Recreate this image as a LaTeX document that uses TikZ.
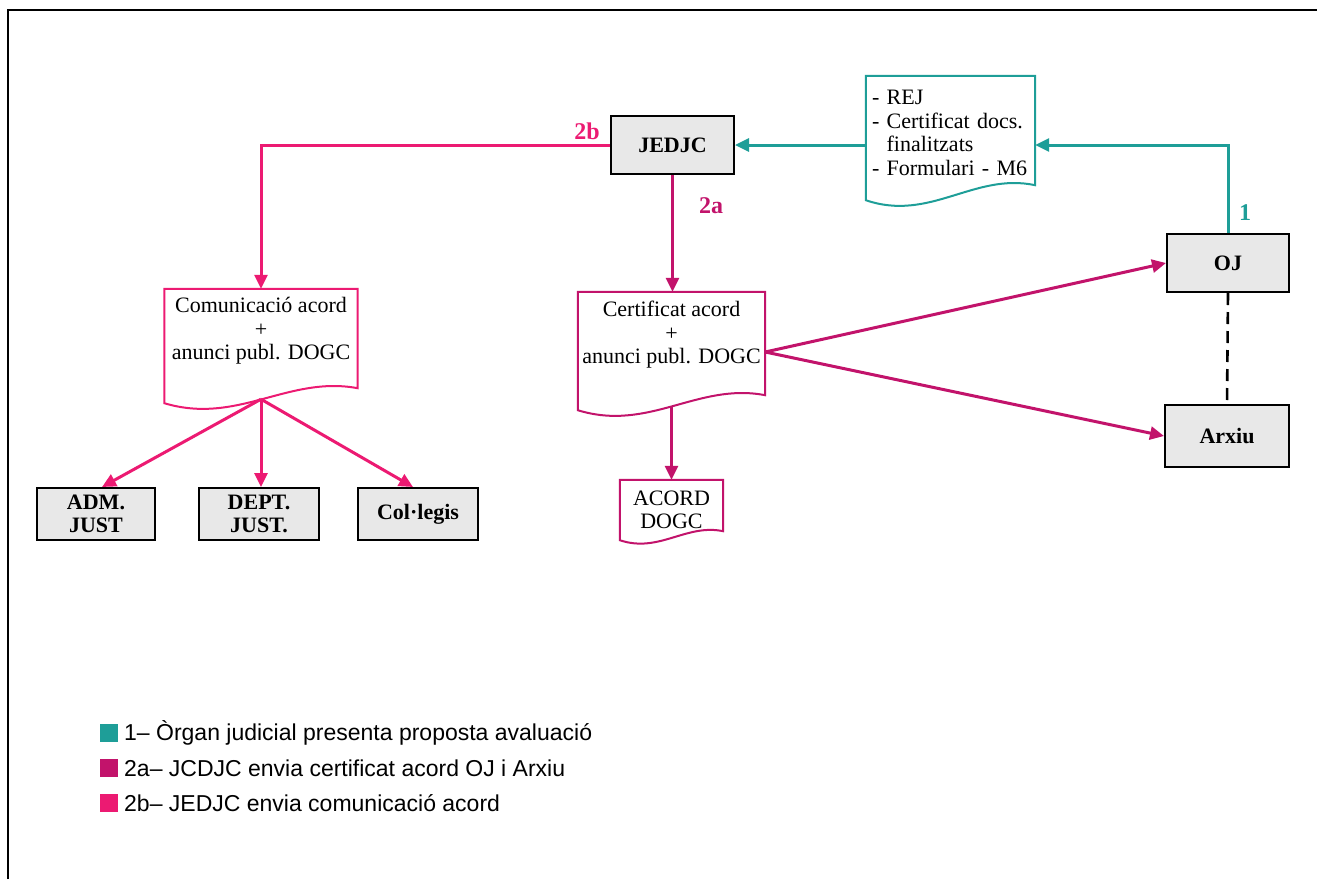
\documentclass[tikz,border=0pt]{standalone}
\usepackage{fontspec}
\setmainfont{Liberation Serif}
\newfontfamily\legendfont{Liberation Sans}
\usetikzlibrary{arrows.meta,calc}
\definecolor{cteal}{HTML}{1E9E98}
\definecolor{ccrim}{HTML}{C2136B}
\definecolor{cpink}{HTML}{EC1A72}
\definecolor{cgray}{HTML}{E8E8E8}
\tikzset{
  gbox/.style={draw=black, line width=2pt, fill=cgray, font=\fontsize{22}{23}\selectfont\bfseries, align=center, inner sep=0pt},
  doctext/.style={draw=none, inner sep=0pt, font=\fontsize{22}{23.5}\selectfont, align=center},
  docline/.style={line width=2pt},
  conn/.style={line width=3pt, -{Triangle[length=14pt,width=13pt]}},
  flowone/.style={conn, draw=cteal},
  flowtwoa/.style={conn, draw=ccrim},
  flowtwob/.style={conn, draw=cpink},
  steplabel/.style={font=\fontsize{24}{26}\selectfont\bfseries, inner sep=0pt},
  legsq/.style={minimum size=18pt, inner sep=0pt, draw=none},
  legtext/.style={anchor=west, inner sep=0pt, font=\legendfont\fontsize{23}{26}\selectfont}
}
\newcommand{\docshape}[4]{%
  \coordinate (#1-bl) at ($(#1.south west)+(0,#4)$);
  \coordinate (#1-br) at ($(#1.south east)+(0,#4)$);
  \coordinate (#1-bot) at ($(#1-bl)!0.5!(#1-br)+(0,-4*#3)$);
  \draw[docline, draw=#2, line join=miter] (#1-bl) -- (#1.north west) -- (#1.north east) -- ($(#1-br)+(0,-15*#3)$)
     .. controls ($(#1-bl)!0.64!(#1-br)+(0,-28*#3)$) and ($(#1-bl)!0.38!(#1-br)+(0,22*#3)$) .. (#1-bl) -- cycle;
}
\begin{document}
\begin{tikzpicture}[x=1pt,y=-1pt]
\useasboundingbox (0,0) rectangle (1317,879);
% frame
\draw[line width=2pt] (8,879) -- (8,10) -- (1317,10);

% boxes
\node[gbox, minimum width=123pt, minimum height=58pt] (jedjc) at (672.5,145) {JEDJC};
\node[gbox, minimum width=122pt, minimum height=58pt] (oj) at (1228,263) {OJ};
\node[gbox, minimum width=124pt, minimum height=62pt] (arxiu) at (1227,436) {Arxiu};
\node[gbox, minimum width=118pt, minimum height=52pt] (adm) at (96,514) {ADM.\\JUST};
\node[gbox, minimum width=120pt, minimum height=52pt] (dept) at (259,514) {DEPT.\\JUST.};
\node[gbox, minimum width=120pt, minimum height=52pt] (coleg) at (418,514) {Col·legis};

% documents
\node[doctext, minimum width=193pt, minimum height=84pt] (com) at (261,331) {Comunicació acord\\+\\anunci publ. DOGC};
\docshape{com}{cpink}{1}{30}
\node[doctext, minimum width=187pt, minimum height=86pt] (cert) at (671.5,335) {Certificat acord\\+\\anunci publ. DOGC};
\docshape{cert}{ccrim}{1}{32}
\node[doctext, minimum width=103pt, minimum height=60pt] (acord) at (671.5,510) {ACORD\\DOGC};
\docshape{acord}{ccrim}{0.6}{0}
\node[doctext, minimum width=169pt, minimum height=114pt, text width=157pt, align=left] (rej) at (950.5,133)
  {- REJ\\- Certificat docs.\\\phantom{- }finalitzats\\- Formulari - M6};
\docshape{rej}{cteal}{1}{10}

% connectors
\draw[flowone] (oj.north) |- (rej.east |- jedjc.east);
\draw[flowone] (rej.west |- jedjc.east) -- (jedjc.east);
\draw[flowtwob] (jedjc.west) -| (com.north);
\draw[flowtwoa] (jedjc.south) -- (jedjc.south |- cert.north);
\coordinate (certR) at ($(cert.east)+(0,17)$);
\draw[flowtwoa] (certR) -- (oj.west);
\draw[flowtwoa] (certR) -- (arxiu.west);
\draw[flowtwoa] (cert-bot) -- (cert-bot |- acord.north);
\draw[flowtwob] (com-bot) -- ($(adm.north)+(6,0)$);
\draw[flowtwob] (com-bot) -- (com-bot |- dept.north);
\draw[flowtwob] (com-bot) -- ($(coleg.north)+(-5,0)$);
\draw[line width=2.6pt, dash pattern=on 12pt off 7pt] (oj.south) -- (arxiu.north);

% step labels
\node[steplabel, text=cpink] (l2b) at (587,131) {2b};
\node[steplabel, text=ccrim] (l2a) at (711,206) {2a};
\node[steplabel, text=cteal] (l1) at (1245,213) {1};

% legend
\node[legsq, fill=cteal] (sq1) at (109,733) {};
\node[legsq, fill=ccrim] (sq2) at (109,768) {};
\node[legsq, fill=cpink] (sq3) at (109,803) {};
\node[legtext] (t1) at (124,733) {1– Òrgan judicial presenta proposta avaluació};
\node[legtext] (t2) at (124,768) {2a– JCDJC envia certificat acord OJ i Arxiu};
\node[legtext] (t3) at (124,803) {2b– JEDJC envia comunicació acord};
\end{tikzpicture}
\end{document}
